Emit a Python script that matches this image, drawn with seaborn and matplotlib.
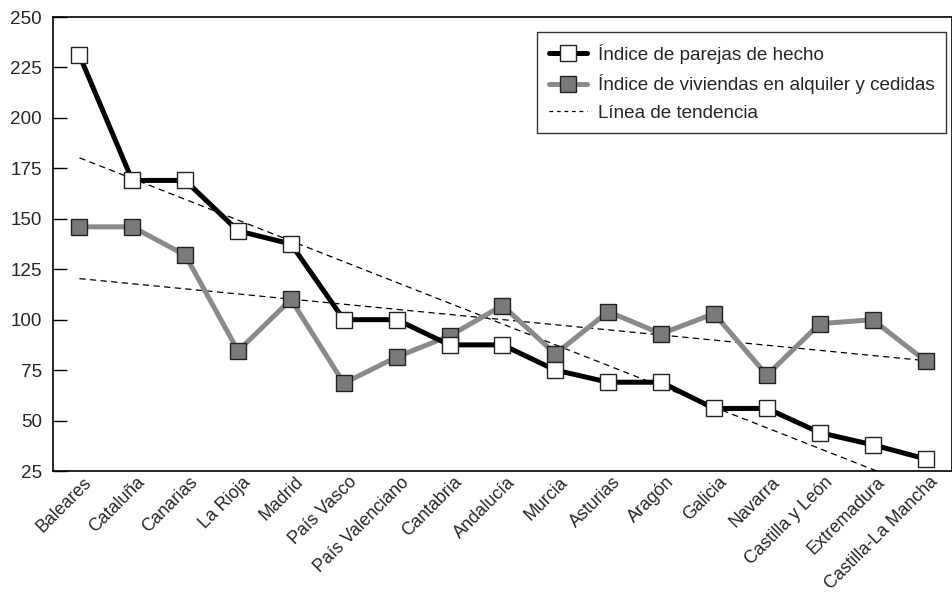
import numpy as np
import pandas as pd
import matplotlib
matplotlib.use("Agg")
import matplotlib.pyplot as plt
import matplotlib.transforms as mtransforms
import seaborn as sns
from matplotlib.lines import Line2D

regiones = ["Baleares", "Cataluña", "Canarias", "La Rioja", "Madrid", "País Vasco",
            "País Valenciano", "Cantabria", "Andalucía", "Murcia", "Asturias", "Aragón",
            "Galicia", "Navarra", "Castilla y León", "Extremadura", "Castilla-La Mancha"]
parejas = [231, 169, 169, 144, 137.5, 100, 100, 87.5, 87.5, 75, 69, 69, 56, 56, 44, 38, 31]
viviendas = [146, 146, 132, 84.5, 110, 68.5, 81.5, 92, 107, 83, 104, 93, 103, 72.5, 98, 100, 79.5]
yticks = [25, 50, 75, 100, 125, 150, 175, 200, 225, 250]

sns.set_style("white")
plt.rcParams["font.family"] = ["Liberation Sans", "DejaVu Sans"]

df = pd.DataFrame({"pos": np.arange(len(regiones)), "region": regiones,
                   "parejas": parejas, "viviendas": viviendas})

FS = 13.6
LW = 3.6
MS = 12

fig = plt.figure(figsize=(9.53, 5.97), dpi=100)
ax = fig.add_axes([53 / 953, 1 - 471 / 597, 899 / 953, (471 - 17) / 597])

# trend lines (least squares) drawn first, under the series
for col in ["parejas", "viviendas"]:
    m, b = np.polyfit(df["pos"], df[col], 1)
    ax.plot(df["pos"], m * df["pos"] + b, color="black", lw=0.9,
            dashes=(5, 3.5), zorder=2)

sns.lineplot(data=df, x="pos", y="viviendas", ax=ax, color="#8a8a8a", lw=LW,
             marker="s", markersize=MS, markerfacecolor="#7a7a7a",
             markeredgecolor="#222222", markeredgewidth=1, zorder=3)
sns.lineplot(data=df, x="pos", y="parejas", ax=ax, color="black", lw=LW,
             marker="s", markersize=MS, markerfacecolor="white",
             markeredgecolor="#222222", markeredgewidth=1, zorder=4)

ax.set_xlim(-0.5, len(regiones) - 0.5)
ax.set_ylim(25, 250)
ax.set_yticks(yticks)
ax.set_xticks(df["pos"])
ax.set_xticklabels(regiones, rotation=45, ha="right", rotation_mode="anchor")
ax.set_xticks(np.arange(0.5, len(regiones) - 1, 1), minor=True)
ax.tick_params(axis="x", which="major", length=0, pad=2, labelsize=12.8)
ax.tick_params(axis="x", which="minor", direction="in", length=8, width=1, color="black")
ax.tick_params(axis="y", direction="in", length=10, width=1, color="black",
               pad=8, labelsize=FS, left=True)
shift = mtransforms.ScaledTranslation(4 / 100, 0, fig.dpi_scale_trans)
for lab in ax.get_xticklabels():
    lab.set_transform(lab.get_transform() + shift)
ax.set_xlabel("")
ax.set_ylabel("")
for s in ax.spines.values():
    s.set_color("black")
    s.set_linewidth(1.2)

handles = [
    Line2D([], [], color="black", lw=LW, marker="s", markersize=MS,
           markerfacecolor="white", markeredgecolor="#222222"),
    Line2D([], [], color="#8a8a8a", lw=LW, marker="s", markersize=MS,
           markerfacecolor="#7a7a7a", markeredgecolor="#222222"),
    Line2D([], [], color="black", lw=0.9, dashes=(3, 3)),
]
labels = ["Índice de parejas de hecho", "Índice de viviendas en alquiler y cedidas",
          "Línea de tendencia"]
leg = ax.legend(handles, labels, loc="upper right", bbox_to_anchor=(0.9933, 0.966),
                borderaxespad=0, fontsize=FS, handlelength=2.0, frameon=True,
                fancybox=False, borderpad=0.6, labelspacing=0.55, handletextpad=0.6)
leg.get_frame().set_edgecolor("black")
leg.get_frame().set_linewidth(1)

fig.savefig("out.png", dpi=100)
